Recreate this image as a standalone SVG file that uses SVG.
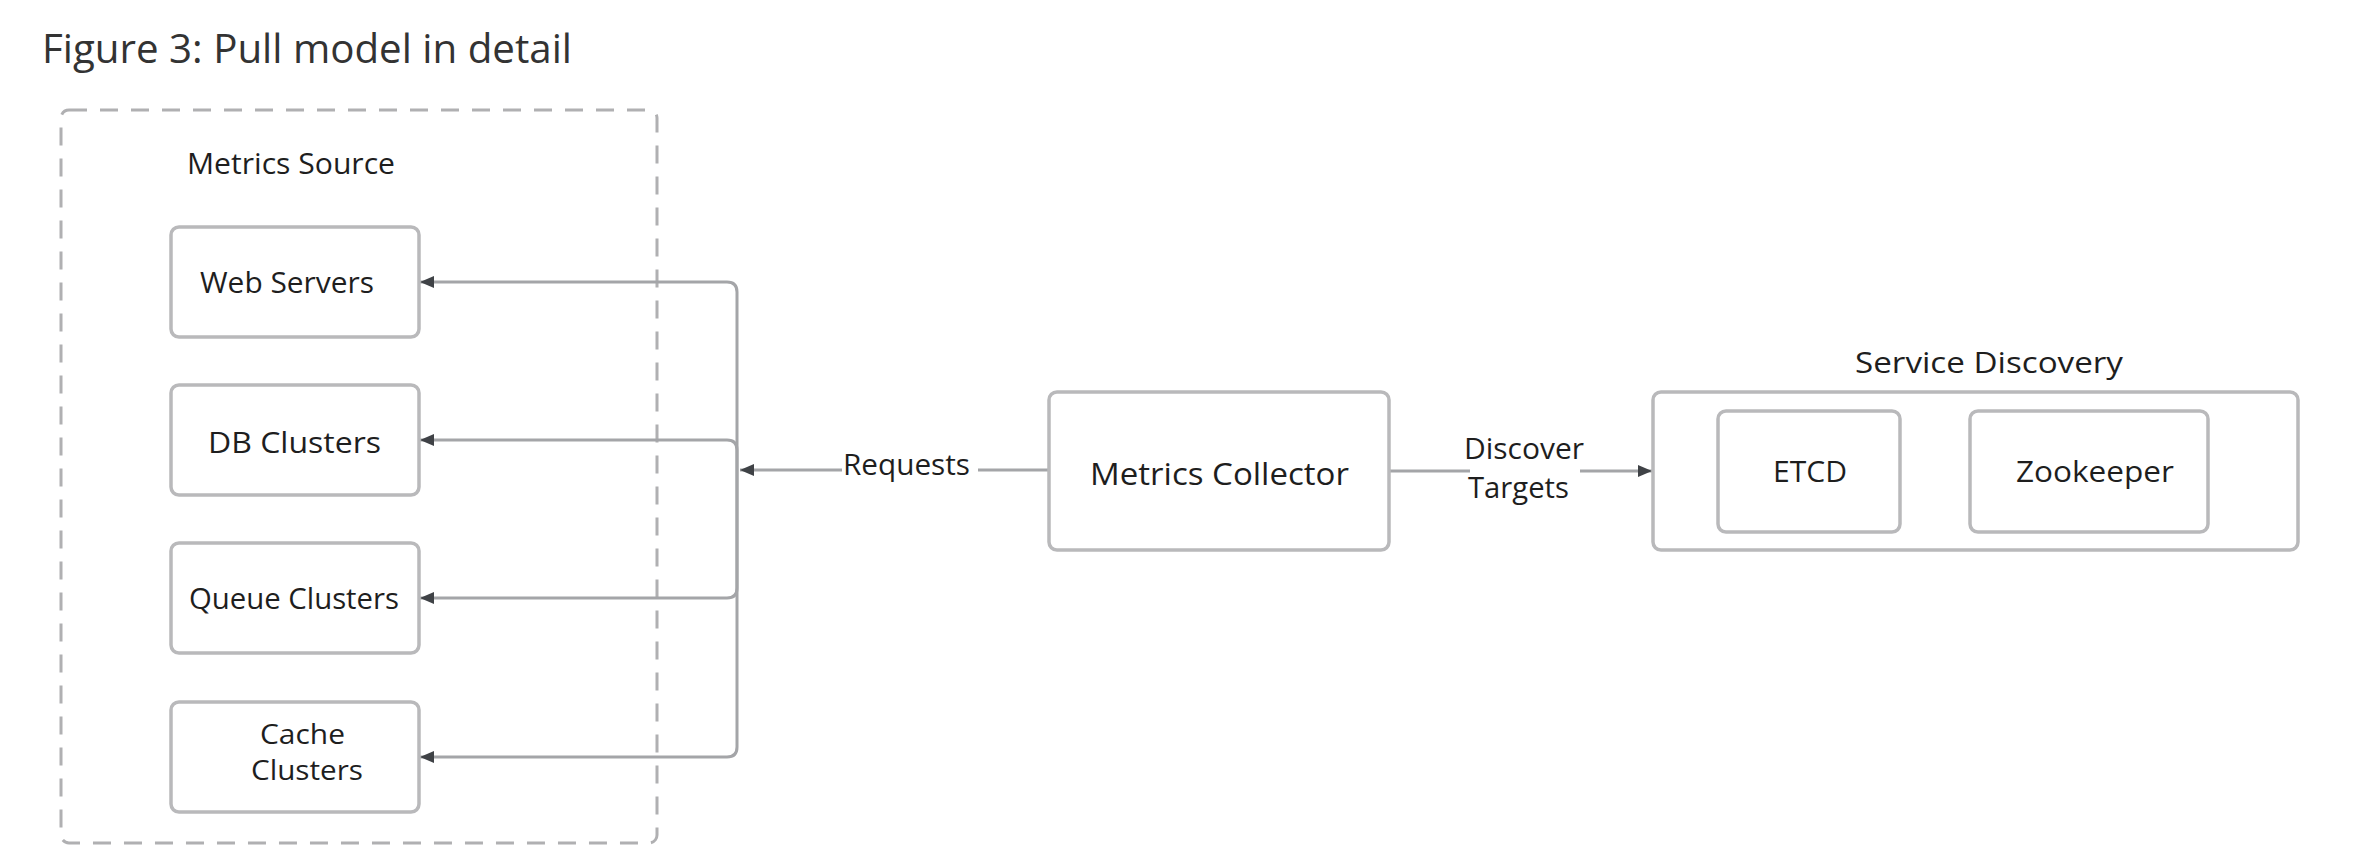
<svg xmlns="http://www.w3.org/2000/svg" width="2366" height="862" viewBox="0 0 2366 862">
<style>
.box{fill:#fff;stroke:#b9b9bb;stroke-width:3.5}
.grp{fill:none;stroke:#b0b0b2;stroke-width:3;stroke-dasharray:18 13}
.t{font-family:"Open Sans","Noto Sans",sans-serif;font-size:30px;fill:#1e1e1e}
.title{font-family:"Open Sans","Noto Sans",sans-serif;font-size:41px;fill:#333}
.c{fill:none;stroke:#a4a5a8;stroke-width:3}
.lbg{fill:#fff}
</style>
<defs>
<marker id="ah" markerUnits="userSpaceOnUse" markerWidth="14" markerHeight="12" refX="14" refY="6" orient="auto">
<path d="M0,0 L14,6 L0,12 z" fill="#3f4246"/>
</marker>
</defs>
<rect width="2366" height="862" fill="#fff"/>
<text class="title" x="42" y="63" textLength="530" lengthAdjust="spacingAndGlyphs">Figure 3: Pull model in detail</text>

<g id="metrics-source">
<rect class="grp" x="61" y="110" width="596" height="733" rx="8"/>
<text class="t" x="187" y="174" textLength="208" lengthAdjust="spacingAndGlyphs">Metrics Source</text>
</g>

<g id="connectors">
<path class="c" d="M1049 470 H740" marker-end="url(#ah)"/>
<path class="c" d="M737 470 V292 Q737 282 727 282 H420" marker-end="url(#ah)"/>
<path class="c" d="M737 470 V450 Q737 440 727 440 H420" marker-end="url(#ah)"/>
<path class="c" d="M737 470 V588 Q737 598 727 598 H420" marker-end="url(#ah)"/>
<path class="c" d="M737 470 V747 Q737 757 727 757 H420" marker-end="url(#ah)"/>
<path class="c" d="M1389 471 H1652" marker-end="url(#ah)"/>
<rect class="lbg" x="842" y="445" width="136" height="40"/>
<text class="t" x="843" y="475" textLength="127" lengthAdjust="spacingAndGlyphs">Requests</text>
<rect class="lbg" x="1470" y="430" width="110" height="76"/>
<text class="t" x="1464" y="459" textLength="120" lengthAdjust="spacingAndGlyphs">Discover</text>
<text class="t" x="1468" y="498" textLength="101" lengthAdjust="spacingAndGlyphs">Targets</text>
</g>

<g id="web-servers">
<rect class="box" x="171" y="227" width="248" height="110" rx="8"/>
<text class="t" x="200" y="293" textLength="174" lengthAdjust="spacingAndGlyphs">Web Servers</text>
</g>
<g id="db-clusters">
<rect class="box" x="171" y="385" width="248" height="110" rx="8"/>
<text class="t" x="208" y="453" textLength="173" lengthAdjust="spacingAndGlyphs">DB Clusters</text>
</g>
<g id="queue-clusters">
<rect class="box" x="171" y="543" width="248" height="110" rx="8"/>
<text class="t" x="189" y="609" textLength="210" lengthAdjust="spacingAndGlyphs">Queue Clusters</text>
</g>
<g id="cache-clusters">
<rect class="box" x="171" y="702" width="248" height="110" rx="8"/>
<text class="t" x="260" y="744" style="font-size:27px" textLength="85" lengthAdjust="spacingAndGlyphs">Cache</text>
<text class="t" x="251" y="780" style="font-size:27px" textLength="112" lengthAdjust="spacingAndGlyphs">Clusters</text>
</g>

<g id="metrics-collector">
<rect class="box" x="1049" y="392" width="340" height="158" rx="8"/>
<text class="t" x="1090" y="485" style="font-size:31px" textLength="259" lengthAdjust="spacingAndGlyphs">Metrics Collector</text>
</g>

<g id="service-discovery">
<text class="t" x="1855" y="373" textLength="268" lengthAdjust="spacingAndGlyphs">Service Discovery</text>
<rect class="box" x="1653" y="392" width="645" height="158" rx="8"/>
</g>
<g id="etcd">
<rect class="box" x="1718" y="411" width="182" height="121" rx="8"/>
<text class="t" x="1773" y="482" textLength="74" lengthAdjust="spacingAndGlyphs">ETCD</text>
</g>
<g id="zookeeper">
<rect class="box" x="1970" y="411" width="238" height="121" rx="8"/>
<text class="t" x="2016" y="482" textLength="158" lengthAdjust="spacingAndGlyphs">Zookeeper</text>
</g>
</svg>
